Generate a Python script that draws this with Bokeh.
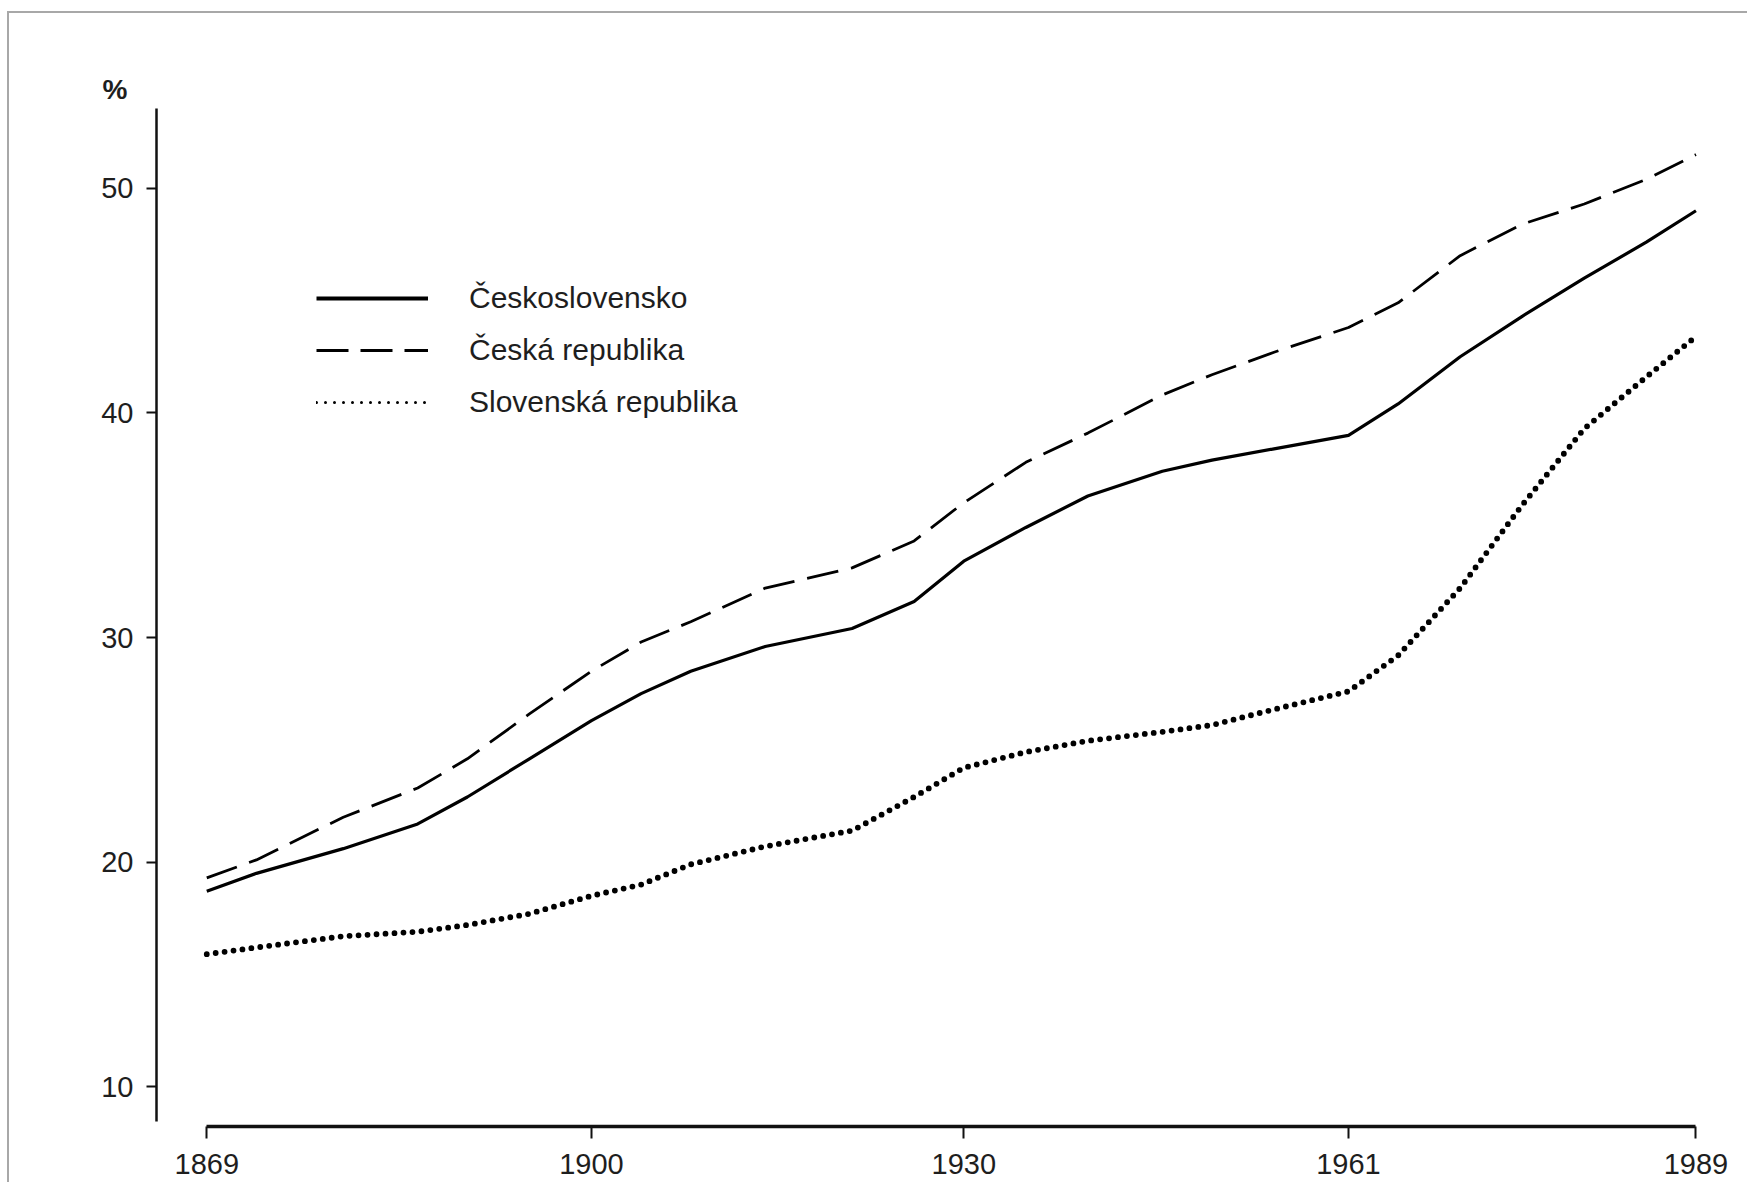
from bokeh.plotting import figure
from bokeh.models import (ColumnDataSource, FixedTicker, Range1d, Legend, LegendItem, Title)
from bokeh.embed import file_html
from bokeh.resources import INLINE

# ---- data ----
years = [1869, 1873, 1880, 1886, 1890, 1895, 1900, 1904, 1908, 1914, 1921, 1926, 1930,
         1935, 1940, 1946, 1950, 1955, 1961, 1965, 1970, 1975, 1980, 1985, 1989]
ceskoslovensko = [18.7, 19.5, 20.6, 21.7, 22.9, 24.6, 26.3, 27.5, 28.5, 29.6, 30.4, 31.6, 33.4,
                  34.9, 36.3, 37.4, 37.9, 38.4, 39.0, 40.4, 42.5, 44.3, 46.0, 47.6, 49.0]
ceska_republika = [19.3, 20.1, 22.0, 23.3, 24.6, 26.6, 28.5, 29.8, 30.7, 32.2, 33.1, 34.3, 36.0,
                   37.8, 39.1, 40.8, 41.7, 42.7, 43.8, 44.9, 47.0, 48.4, 49.3, 50.4, 51.5]
slovenska_republika = [15.9, 16.2, 16.7, 16.9, 17.2, 17.7, 18.5, 19.0, 19.9, 20.7, 21.4, 22.9, 24.2,
                       24.9, 25.4, 25.8, 26.1, 26.8, 27.6, 29.2, 32.2, 35.9, 39.3, 41.6, 43.4]
series_names = ["Československo", "Česká republika", "Slovenská republika"]
x_ticks = [1869, 1900, 1930, 1961, 1989]
y_ticks = [10, 20, 30, 40, 50]
y_unit = "%"

src = ColumnDataSource(dict(year=years, cs=ceskoslovensko, cr=ceska_republika, sr=slovenska_republika))
# invisible source (NaN) used only to give the key its own swatch styles
key_src = ColumnDataSource(dict(year=[float("nan")], v=[float("nan")]))

FONT = "Liberation Sans"
TXT = "#1e1e1e"

p = figure(width=1740, height=1171, output_backend="svg", toolbar_location=None,
           x_range=Range1d(1864.95, 1989.85), y_range=Range1d(8.23, 53.73),
           min_border_left=147, min_border_right=43, min_border_top=91, min_border_bottom=58,
           background_fill_color="white", border_fill_color="white")
p.styles = {"margin-left": "7px", "margin-top": "11px",
            "border-top": "2px solid #a8a8a8", "border-left": "2px solid #a8a8a8"}
p.outline_line_color = None
p.xgrid.grid_line_color = None
p.ygrid.grid_line_color = None

# "%" unit label above the y axis
p.add_layout(Title(text=y_unit, align="left", offset=-54, standoff=0,
                   text_font=FONT, text_font_size="28px", text_font_style="bold",
                   text_color=TXT), "above")

# axes
xa = p.xaxis[0]
xa.ticker = FixedTicker(ticks=x_ticks)
xa.bounds = (1869, 1989)
xa.axis_line_width = 3.5
xa.axis_line_color = "#111111"
xa.major_tick_line_width = 2
xa.major_tick_line_color = "#111111"
xa.major_tick_out = 12
xa.major_tick_in = 0
xa.minor_tick_line_color = None
xa.major_label_standoff = 15
xa.major_label_text_font = FONT
xa.major_label_text_font_size = "29px"
xa.major_label_text_color = TXT

ya = p.yaxis[0]
ya.ticker = FixedTicker(ticks=y_ticks)
ya.bounds = (8.46, 53.53)
ya.axis_line_width = 2.5
ya.axis_line_color = "#111111"
ya.major_tick_line_width = 2
ya.major_tick_line_color = "#111111"
ya.major_tick_out = 10
ya.major_tick_in = 0
ya.minor_tick_line_color = None
ya.major_label_standoff = 13
ya.major_label_text_font = FONT
ya.major_label_text_font_size = "29px"
ya.major_label_text_color = TXT

# lines
p.line("year", "cs", source=src, line_color="black", line_width=3.2, line_join="round")
p.line("year", "cr", source=src, line_color="black", line_width=2.8,
       line_dash="32 13", line_join="round")
p.line("year", "sr", source=src, line_color="black", line_width=5.8,
       line_dash="0 9", line_cap="round", line_join="round")

# legend swatches (styled like the printed key)
k_cs = p.line("year", "v", source=key_src, line_color="black", line_width=4)
k_cr = p.line("year", "v", source=key_src, line_color="black", line_width=3, line_dash="32 12")
k_sr = p.line("year", "v", source=key_src, line_color="black", line_width=3,
              line_dash="0 9", line_cap="round")

legend = Legend(items=[LegendItem(label=series_names[0], renderers=[k_cs]),
                       LegendItem(label=series_names[1], renderers=[k_cr]),
                       LegendItem(label=series_names[2], renderers=[k_sr])],
                location=(160, 706), orientation="vertical",
                glyph_width=112, glyph_height=36, label_height=36, label_width=300,
                label_standoff=41, spacing=16, padding=0, margin=0,
                border_line_color=None, background_fill_alpha=0,
                label_text_font=FONT, label_text_font_size="30px", label_text_color=TXT)
p.add_layout(legend, "center")

open("out.html", "w").write(file_html(p, INLINE))
